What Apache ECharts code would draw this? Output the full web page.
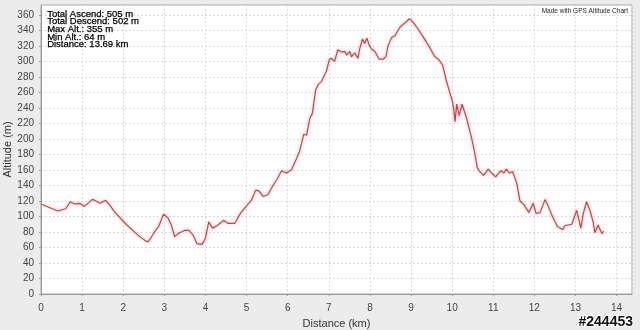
<!DOCTYPE html>
<html>
<head>
<meta charset="utf-8">
<script src="https://cdn.jsdelivr.net/npm/echarts@6/dist/echarts.min.js"></script>
<style>
html,body{margin:0;padding:0;background:#ececec;}
#c{width:640px;height:330px;}
</style>
</head>
<body>
<div id="c"></div>
<script>
const distanceKm = [0.00,0.41,0.60,0.71,0.82,0.94,1.06,1.25,1.34,1.44,1.57,1.67,1.79,2.07,2.40,2.56,2.62,2.76,2.87,2.98,3.09,3.17,3.25,3.37,3.49,3.60,3.70,3.79,3.92,4.00,4.08,4.17,4.28,4.44,4.55,4.71,4.85,4.99,5.12,5.22,5.30,5.40,5.52,5.63,5.74,5.85,5.97,6.09,6.21,6.29,6.33,6.39,6.46,6.54,6.60,6.68,6.74,6.82,6.86,6.94,7.01,7.06,7.10,7.14,7.22,7.31,7.39,7.43,7.51,7.55,7.63,7.71,7.75,7.82,7.87,7.93,7.98,8.04,8.12,8.22,8.32,8.39,8.44,8.53,8.61,8.65,8.73,8.81,8.83,8.89,8.95,9.01,9.13,9.28,9.42,9.58,9.68,9.77,9.86,9.94,10.01,10.04,10.07,10.11,10.17,10.24,10.35,10.47,10.55,10.61,10.67,10.77,10.88,10.96,11.06,11.18,11.26,11.32,11.39,11.47,11.57,11.65,11.75,11.87,11.97,12.04,12.14,12.26,12.34,12.44,12.56,12.69,12.74,12.82,12.91,13.03,13.13,13.19,13.27,13.35,13.43,13.47,13.55,13.64,13.69];
const altitudeM = [116,107,110,119,116,117,113,122,120,117,121,115,106,90,74,68,68,80,88,103,98,89,74,79,82,82,76,65,64,72,93,85,88,95,91,91,104,113,121,134,133,126,128,139,148,159,156,160,174,184,182,206,205,227,233,263,270,274,276,287,302,304,306,300,315,312,313,308,313,306,311,304,316,329,323,330,321,316,313,303,303,306,320,331,333,337,344,348,347,351,355,353,345,333,321,306,302,295,275,260,248,237,222,245,230,245,227,202,182,163,158,153,161,156,151,159,156,161,156,158,143,120,115,105,117,104,105,122,113,100,87,83,88,89,90,108,85,104,119,108,93,79,89,78,81];
const xTicks = [0,1,2,3,4,5,6,7,8,9,10,11,12,13,14];
const yTicks = [0,20,40,60,80,100,120,140,160,180,200,220,240,260,280,300,320,340,360];
const statsLines = ["Total Ascend: 505 m","Total Descend: 502 m","Max Alt.: 355 m","Min Alt.: 64 m","Distance: 13.69 km"];
const creditText = "Made with GPS Altitude Chart";
const stampText = "#244453";
const xTitle = "Distance (km)";
const yTitle = "Altitude (m)";

const chart = echarts.init(document.getElementById('c'), null, {renderer:'canvas'});
const FONT = '"Liberation Sans", Arial, sans-serif';
const graphics = statsLines.map((t,i)=>({
  type:'text', left:47, top:9 + i*7.6, z:100,
  style:{text:t, font:'9.5px '+FONT, fill:'#000', stroke:'#000', lineWidth:0.25}
}));
graphics.push({type:'text', right:12, top:8, z:100, style:{text:creditText, font:'6.5px '+FONT, fill:'#222'}});
graphics.push({type:'text', right:6, top:314, z:100, style:{text:stampText, font:'bold 14px '+FONT, fill:'#111', stroke:'#fff', lineWidth:2}});

chart.setOption({
  backgroundColor:'#ececec',
  animation:false,
  grid:{left:41, right:8, top:5, bottom:36, containLabel:false, outerBoundsMode:'none',
    show:true, backgroundColor:'#ffffff', borderColor:'#a8a8a8', borderWidth:1},
  xAxis:{
    type:'value', min:0, max:14.3745, interval:1,
    offset:3,
    name:xTitle, nameLocation:'middle', nameGap:21, nameMoveOverlap:false,
    nameTextStyle:{fontFamily:FONT, fontSize:11, color:'#333'},
    axisLine:{show:true, lineStyle:{color:'#999', width:1}},
    axisTick:{show:true, length:2, lineStyle:{color:'#999'}},
    axisLabel:{fontFamily:FONT, fontSize:10, color:'#444', margin:6, showMaxLabel:false,
      formatter:v=> xTicks.includes(v) ? String(v) : ''},
    splitLine:{show:true, lineStyle:{color:'#dadada', type:[2,2], width:1}}
  },
  yAxis:{
    type:'value', min:0, max:372.75, interval:20,
    offset:2,
    name:yTitle, nameLocation:'middle', nameGap:26, nameRotate:90, nameMoveOverlap:false,
    nameTextStyle:{fontFamily:FONT, fontSize:11, color:'#333'},
    axisLine:{show:true, lineStyle:{color:'#999', width:1}},
    axisTick:{show:true, length:2, lineStyle:{color:'#999'}},
    axisLabel:{fontFamily:FONT, fontSize:10, color:'#444', margin:5, showMaxLabel:false,
      formatter:v=> yTicks.includes(v) ? String(v) : ''},
    splitLine:{show:true, lineStyle:{color:'#dadada', type:[2,2], width:1}}
  },
  series:[{
    type:'line', showSymbol:false, symbol:'none',
    data: distanceKm.map((d,i)=>[d, altitudeM[i]]),
    lineStyle:{color:'#c84444', width:1.2, shadowBlur:3, shadowColor:'rgba(220,80,80,0.45)'},
    z:10
  }],
  graphic:graphics
});
</script>
</body>
</html>
